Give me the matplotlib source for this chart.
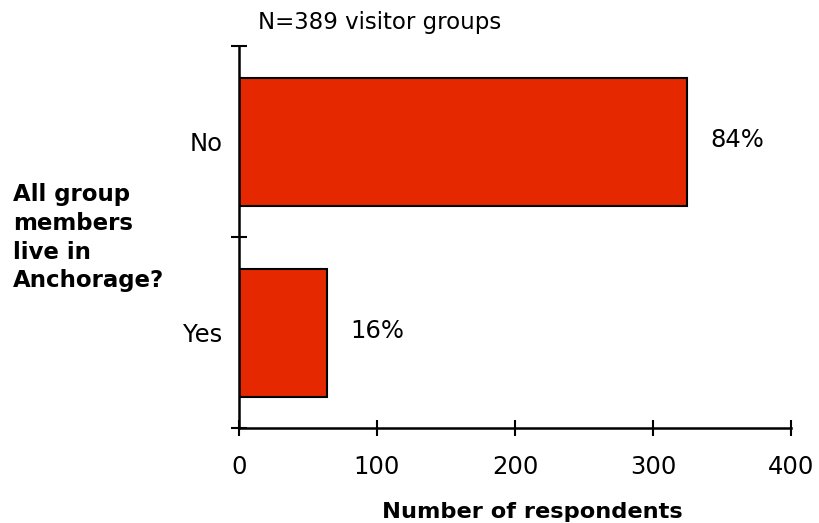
import matplotlib.pyplot as plt
from matplotlib.ticker import FixedLocator, NullFormatter

# survey answers: do all group members live in Anchorage?
categories = ['Yes', 'No']
respondents = [64, 325]
percent_labels = ['16%', '84%']
n_groups = 389

bar_color = '#E52800'

plt.rcParams['font.family'] = 'DejaVu Sans'

fig = plt.figure(figsize=(8.19, 5.23), dpi=100)
ax = fig.add_axes([0.2918, 0.1816, 0.674, 0.7304])

ypos = list(range(len(categories)))
ax.barh(ypos, respondents, height=0.67, color=bar_color,
        edgecolor='black', linewidth=1.5, zorder=2)

# percentage labels to the right of each bar
for y, val, lab in zip(ypos, respondents, percent_labels):
    ax.annotate(lab, xy=(val, y), xytext=(16.5, 1),
                textcoords='offset points', ha='left', va='center',
                fontsize=17.5)

ax.set_xlim(0, 400)
ax.set_ylim(-0.5, 1.5)
ax.set_xticks([0, 100, 200, 300, 400])
ax.tick_params(axis='x', direction='inout', length=11.5, width=1.5,
               labelsize=17.5, pad=14)

# boundary ticks on the y axis, category names on minor ticks
ax.yaxis.set_major_locator(FixedLocator([-0.5, 0.5, 1.5]))
ax.yaxis.set_major_formatter(NullFormatter())
ax.set_yticks(ypos, minor=True)
ax.set_yticklabels(categories, minor=True)
ax.tick_params(axis='y', which='major', direction='inout', length=11.5,
               width=1.5)
ax.tick_params(axis='y', which='minor', length=0, labelsize=17.5, pad=12)

for side in ['top', 'right']:
    ax.spines[side].set_visible(False)
for side in ['left', 'bottom']:
    ax.spines[side].set_linewidth(1.8)

fig.text(0.6496, 0.0096, 'Number of respondents', fontsize=16.2,
         fontweight='bold', ha='center', va='baseline')
fig.text(0.0159, 0.650, 'All group\nmembers\nlive in\nAnchorage?',
         fontsize=16.5, fontweight='bold', ha='left', va='top',
         linespacing=1.32)
fig.text(0.315, 0.957, 'N=%d visitor groups' % n_groups, fontsize=16.5,
         ha='left', va='center')

fig.savefig('out.png', dpi=100)
